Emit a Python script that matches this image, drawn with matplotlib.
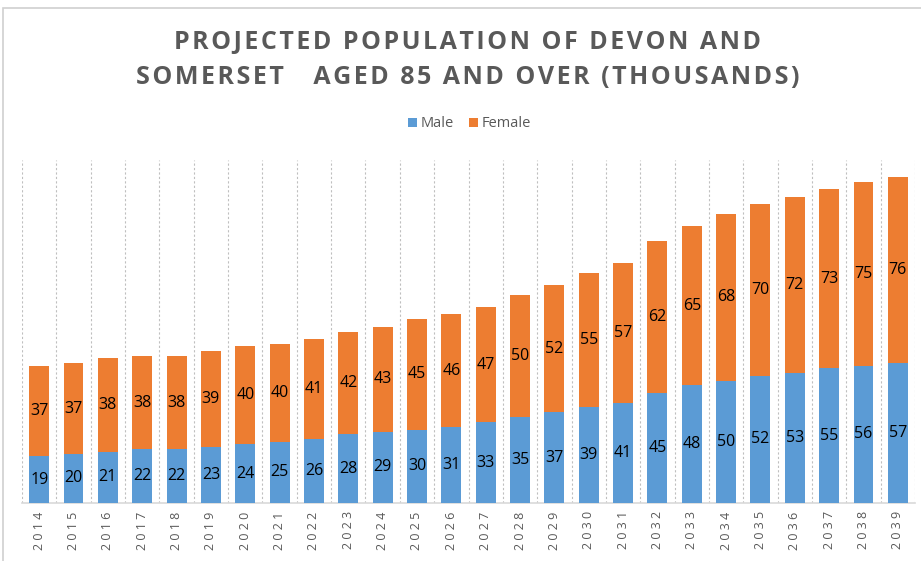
import numpy as np
import matplotlib.pyplot as plt
from matplotlib.patches import Rectangle

years = list(range(2014, 2040))
male = [19, 20, 21, 22, 22, 23, 24, 25, 26, 28, 29, 30, 31, 33, 35, 37, 39, 41,
        45, 48, 50, 52, 53, 55, 56, 57]
female = [37, 37, 38, 38, 38, 39, 40, 40, 41, 42, 43, 45, 46, 47, 50, 52, 55, 57,
          62, 65, 68, 70, 72, 73, 75, 76]
title_lines = ["PROJECTED POPULATION OF DEVON AND",
               "SOMERSET   AGED 85 AND OVER (THOUSANDS)"]

BLUE = "#5B9BD5"
ORANGE = "#ED7D31"
GREY = "#595959"

def spaced(s):
    # fake letter spacing with hair spaces
    return "\u200a".join(s)

fig = plt.figure(figsize=(9.21, 5.61), dpi=100)
ax = fig.add_axes([22 / 921, 58 / 561, 893 / 921, 343 / 561])

x = np.arange(len(years))
w = 0.58
b1 = ax.bar(x, male, w, color=BLUE, label="Male", zorder=3)
b2 = ax.bar(x, female, w, bottom=male, color=ORANGE, label="Female", zorder=3)

for i in range(len(years)):
    ax.text(x[i], male[i] / 2, str(male[i]), ha="center", va="center",
            fontsize=11.5, color="black", family="Open Sans", zorder=4)
    ax.text(x[i], male[i] + female[i] / 2, str(female[i]), ha="center",
            va="center", fontsize=11.5, color="black", family="Open Sans", zorder=4)

ax.set_xlim(-0.5, len(years) - 0.5)
ax.set_ylim(0, 140)
ax.set_yticks([])

# dotted separators between categories
for b in np.arange(-0.5, len(years) + 0.5, 1.0):
    ax.axvline(b, color="#BFBFBF", lw=0.8, ls=(0, (2, 2)), zorder=1)

for s in ["top", "right", "left"]:
    ax.spines[s].set_visible(False)
ax.spines["bottom"].set_color("#D9D9D9")
ax.spines["bottom"].set_linewidth(1.2)

ax.set_xticks(x)
ax.set_xticklabels([" ".join(str(y)) for y in years], rotation=90,
                   fontsize=9, color=GREY, family="Open Sans")
ax.tick_params(axis="x", length=0, pad=6)

fam = ["Open Sans", "DejaVu Sans"]
fig.text(0.508, 0.925, spaced(title_lines[0]), ha="center", va="center",
         fontsize=18, fontweight="bold", color=GREY, family=fam)
fig.text(0.508, 0.861, spaced(title_lines[1]), ha="center", va="center",
         fontsize=18, fontweight="bold", color=GREY, family=fam)

fig.legend(handles=[b1, b2], labels=["Male", "Female"], loc="center",
           bbox_to_anchor=(0.51, 0.779), ncol=2, frameon=False,
           prop={"family": "Open Sans", "size": 10.5}, handlelength=0.6,
           handleheight=0.6, handletextpad=0.3, columnspacing=1.0,
           labelcolor=GREY)

# outer chart border
fig.patches.append(Rectangle((3 / 921, -0.05), 1.2, 1.05 - 8 / 561,
                             transform=fig.transFigure, fill=False,
                             edgecolor="#D0D0D0", lw=1.2))

fig.savefig("out.png", dpi=100)
